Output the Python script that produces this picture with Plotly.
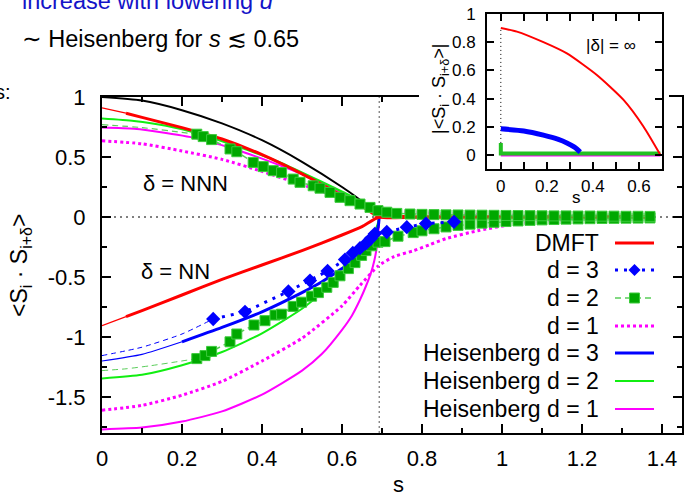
import plotly.graph_objects as go

W, H = 684, 497
S_C = 0.693  # critical coupling: dotted vertical marker

# ---------------- main panel ----------------
s_dmft = [0.0, 0.06, 0.1, 0.2, 0.3, 0.4, 0.5, 0.6, 0.65, 0.693, 0.8, 1.0, 1.2, 1.38]
nn_dmft = [-0.905, -0.83, -0.78, -0.65, -0.52, -0.40, -0.28, -0.15, -0.08, 0.0, 0.0, 0.0, 0.0, 0.0]
nnn_dmft = [0.91, 0.865, 0.83, 0.745, 0.65, 0.52, 0.36, 0.18, 0.09, 0.0, 0.0, 0.0, 0.0, 0.0]

s_black = [0.0, 0.1, 0.2, 0.3, 0.4, 0.5, 0.6, 0.65, 0.693]
nnn_black = [1.0, 0.97, 0.89, 0.78, 0.64, 0.46, 0.25, 0.13, 0.0]

s_heis3 = [0.0, 0.1, 0.2, 0.3, 0.4, 0.5, 0.55, 0.6, 0.63, 0.65, 0.665, 0.677, 0.686, 0.691, 0.693]
nn_heis3 = [-1.20, -1.145, -1.04, -0.92, -0.79, -0.63, -0.54, -0.43, -0.36, -0.30, -0.245,
            -0.19, -0.13, -0.07, 0.0]

s_heis2 = [0.0, 0.1, 0.2, 0.3, 0.4, 0.5, 0.55, 0.6, 0.625, 0.645, 0.66, 0.672, 0.682, 0.689, 0.693]
nn_heis2 = [-1.345, -1.315, -1.235, -1.125, -0.97, -0.765, -0.63, -0.47, -0.385, -0.30,
            -0.235, -0.175, -0.115, -0.06, 0.0]

s_heis1 = [0.0, 0.1, 0.2, 0.3, 0.4, 0.5, 0.55, 0.6, 0.625, 0.645, 0.66, 0.672, 0.681, 0.687, 0.691, 0.693]
nn_heis1 = [-1.77, -1.755, -1.705, -1.62, -1.48, -1.28, -1.14, -0.94, -0.82, -0.69, -0.575,
            -0.47, -0.36, -0.25, -0.13, 0.0]

s_heis_nnn = [0.0, 0.08, 0.16, 0.245, 0.345, 0.445, 0.545, 0.628, 0.678, 0.693]
nnn_heis2 = [0.82, 0.80, 0.76, 0.69, 0.58, 0.455, 0.30, 0.164, 0.06, 0.0]
nnn_heis1 = [0.745, 0.735, 0.70, 0.65, 0.55, 0.43, 0.29, 0.15, 0.05, 0.0]

s_d1_nn = [0.0, 0.1, 0.2, 0.3, 0.4, 0.5, 0.6, 0.645, 0.69, 0.73, 0.78, 0.82, 0.86,
           0.945, 1.03, 1.11, 1.2, 1.3, 1.38]
nn_d1 = [-1.61, -1.57, -1.485, -1.37, -1.20, -1.01, -0.74, -0.57, -0.41, -0.33, -0.28,
         -0.23, -0.18, -0.11, -0.06, -0.032, -0.018, -0.01, -0.007]
s_d1_nnn = [0.0, 0.1, 0.2, 0.3, 0.4, 0.5, 0.6, 0.69, 0.73, 0.8, 0.9, 1.0, 1.1, 1.2, 1.3, 1.38]
nnn_d1 = [0.635, 0.61, 0.55, 0.48, 0.38, 0.27, 0.16, 0.08, 0.05, 0.035, 0.025, 0.018,
          0.013, 0.01, 0.008, 0.006]

# low-s extrapolations of the finite-d data (thin dashed)
s_d3_ext = [0.0, 0.1, 0.2, 0.278]
nn_d3_ext = [-1.155, -1.085, -0.975, -0.85]
s_d2_ext = [0.0, 0.06, 0.12, 0.18, 0.237]
nn_d2_ext = [-1.28, -1.265, -1.24, -1.21, -1.18]
s_d2_ext_nnn = [0.0, 0.1, 0.2, 0.237]
nnn_d2_ext = [0.77, 0.745, 0.705, 0.69]

# d = 3 data points (NN)
s_d3 = [0.278, 0.3575, 0.466, 0.52, 0.564, 0.6075, 0.627, 0.645, 0.66, 0.672, 0.682,
        0.712, 0.762, 0.81, 0.88]
nn_d3 = [-0.85, -0.79, -0.62, -0.53, -0.45, -0.355, -0.30, -0.26, -0.22, -0.18, -0.14,
         -0.125, -0.085, -0.055, -0.04]

# d = 2 data points (NN)
s_d2_nn = [0.237, 0.2575, 0.274, 0.32, 0.337, 0.38, 0.4075, 0.4325, 0.449, 0.478, 0.499,
           0.524, 0.541, 0.562, 0.578, 0.595, 0.616, 0.6325, 0.649, 0.66, 0.674, 0.69,
           0.7075, 0.74, 0.778, 0.80, 0.83, 0.86, 0.89, 0.92, 0.95, 0.98, 1.01, 1.04,
           1.07, 1.10, 1.13, 1.16, 1.19, 1.22, 1.25, 1.28, 1.31, 1.34, 1.37]
nn_d2 = [-1.18, -1.155, -1.12, -1.04, -0.975, -0.90, -0.864, -0.817, -0.81, -0.745, -0.71,
         -0.66, -0.63, -0.586, -0.545, -0.49, -0.43, -0.38, -0.32, -0.28, -0.24, -0.21,
         -0.205, -0.16, -0.13, -0.115, -0.098, -0.083, -0.07, -0.06, -0.051, -0.044,
         -0.038, -0.033, -0.028, -0.024, -0.021, -0.018, -0.016, -0.014, -0.012, -0.011,
         -0.01, -0.009, -0.008]

# d = 2 data points (NNN)
s_d2_nnn = [0.237, 0.253, 0.274, 0.32, 0.337, 0.378, 0.403, 0.428, 0.449, 0.478, 0.495,
            0.528, 0.545, 0.57, 0.595, 0.62, 0.645, 0.67, 0.69, 0.712, 0.737, 0.77, 0.80,
            0.83, 0.86, 0.89, 0.92, 0.95, 0.98, 1.01, 1.04, 1.07, 1.10, 1.13, 1.16, 1.19,
            1.22, 1.25, 1.28, 1.31, 1.34, 1.37]
nnn_d2 = [0.69, 0.67, 0.645, 0.567, 0.544, 0.455, 0.42, 0.386, 0.37, 0.316, 0.289, 0.26,
          0.24, 0.205, 0.164, 0.136, 0.108, 0.08, 0.053, 0.04, 0.03, 0.025, 0.022, 0.02,
          0.018, 0.017, 0.016, 0.015, 0.014, 0.013, 0.012, 0.011, 0.01, 0.009, 0.009,
          0.008, 0.008, 0.007, 0.007, 0.006, 0.006, 0.005]

# ---------------- inset: |delta| = infinity ----------------
s_inf_dmft = [0.0, 0.07, 0.185, 0.287, 0.417, 0.533, 0.62, 0.693]
inf_dmft = [0.90, 0.875, 0.80, 0.72, 0.567, 0.39, 0.20, 0.0]
s_inf_d3 = [0.0, 0.1, 0.185, 0.25, 0.287, 0.32, 0.345]
inf_d3 = [0.185, 0.17, 0.14, 0.11, 0.085, 0.055, 0.02]
s_inf_d2 = [0.0, 0.0, 0.693]
inf_d2 = [0.085, 0.01, 0.01]
s_inf_d1 = [0.0, 0.693]
inf_d1 = [0.0, 0.0]

x_ticks = [0, 0.2, 0.4, 0.6, 0.8, 1.0, 1.2, 1.4]
x_ticktext = ["0", "0.2", "0.4", "0.6", "0.8", "1", "1.2", "1.4"]
y_ticks = [-1.5, -1.0, -0.5, 0.0, 0.5, 1.0]
y_ticktext = ["-1.5", "-1", "-0.5", "0", "0.5", "1"]
ix_ticks = [0, 0.2, 0.4, 0.6]
ix_ticktext = ["0", "0.2", "0.4", "0.6"]
iy_ticks = [0, 0.2, 0.4, 0.6, 0.8, 1.0]
iy_ticktext = ["0", "0.2", "0.4", "0.6", "0.8", "1"]

legend_labels = ["DMFT", "d = 3", "d = 2", "d = 1",
                 "Heisenberg d = 3", "Heisenberg d = 2", "Heisenberg d = 1"]

RED = "#FF0000"
BLUE = "#0000FF"
GREEN_DOT = "#00A800"
GREEN_DOT_EDGE = "#3CCB3C"
GREEN_DASH = "#5ACD5A"
GREEN_LINE = "#11EE11"
MAGENTA = "#FF00FF"
FONT = "Liberation Sans, Arial, DejaVu Sans, sans-serif"


def px(x):
    return x / W


def py(y):
    return 1 - y / H


fig = go.Figure()


def line(x, y, color, width, dash="solid", axes=("x", "y"), smooth=True):
    fig.add_trace(go.Scatter(x=x, y=y, mode="lines", xaxis=axes[0], yaxis=axes[1],
                             line=dict(color=color, width=width, dash=dash,
                                       shape="spline" if smooth else "linear",
                                       smoothing=0.6),
                             hoverinfo="skip", showlegend=False))


def split(xs, ys, cut):
    lo = [(a, b) for a, b in zip(xs, ys) if a <= cut]
    hi = [(a, b) for a, b in zip(xs, ys) if a >= cut]
    return ([p[0] for p in lo], [p[1] for p in lo]), ([p[0] for p in hi], [p[1] for p in hi])


# black reference curve
line(s_black, nnn_black, "#000000", 2)

# Heisenberg curves
line(s_heis_nnn, nnn_heis1, MAGENTA, 2)
line(s_heis1, nn_heis1, MAGENTA, 2)
line(s_heis_nnn, nnn_heis2, GREEN_LINE, 2)
line(s_heis2, nn_heis2, GREEN_LINE, 2)
(lo3, hi3) = split(s_heis3, nn_heis3, 0.2)
line(*lo3, BLUE, 1.2)
line(*hi3, BLUE, 3)

# d = 1
line(s_d1_nn, nn_d1, MAGENTA, 3, "3px,3px")
line(s_d1_nnn, nnn_d1, MAGENTA, 3, "3px,3px")

# extrapolations
line(s_d3_ext, nn_d3_ext, BLUE, 1, "5px,4px")
line(s_d2_ext, nn_d2_ext, GREEN_DASH, 1, "6px,4px")
line(s_d2_ext_nnn, nnn_d2_ext, GREEN_DASH, 1.2, "6px,4px")

# DMFT
(lo_d, hi_d) = split(s_dmft, nn_dmft, 0.06)
line(*lo_d, RED, 1.2)
line(*hi_d, RED, 3)
(lo_n, hi_n) = split(s_dmft, nnn_dmft, 0.06)
line(*lo_n, RED, 1.2)
line(*hi_n, RED, 3)

# d = 2 points
for xs, ys in ((s_d2_nn, nn_d2), (s_d2_nnn, nnn_d2)):
    fig.add_trace(go.Scatter(
        x=xs, y=ys, mode="lines+markers",
        line=dict(color=GREEN_DASH, width=1.5, dash="6px,4px"),
        marker=dict(symbol="square", size=10, color=GREEN_DOT,
                    line=dict(color=GREEN_DOT_EDGE, width=1)),
        hoverinfo="skip", showlegend=False))

# d = 3 points
fig.add_trace(go.Scatter(
    x=s_d3, y=nn_d3, mode="lines+markers",
    line=dict(color=BLUE, width=3, dash="3px,6px"),
    marker=dict(symbol="diamond", size=11, color=BLUE, line=dict(width=0)),
    hoverinfo="skip", showlegend=False))

# placeholder for the white panel under the inset
fig.add_trace(go.Scatter(x=[], y=[], xaxis="x2", yaxis="y2", showlegend=False))

# inset curves
line(s_inf_d1, inf_d1, MAGENTA, 3, axes=("x3", "y3"), smooth=False)
line(s_inf_d2, inf_d2, "#22C022", 4, axes=("x3", "y3"), smooth=False)
line(s_inf_d3, inf_d3, BLUE, 5, axes=("x3", "y3"))
line(s_inf_dmft, inf_dmft, RED, 2, axes=("x3", "y3"))

axis_common = dict(showgrid=False, zeroline=False, showline=True, linecolor="#000000",
                   linewidth=2, ticks="inside", tickcolor="#000000", tickwidth=1.5,
                   mirror="ticks", automargin=False,
                   tickfont=dict(family=FONT, size=22, color="#000000"))

fig.update_layout(
    width=W, height=H,
    margin=dict(l=0, r=0, t=0, b=0, pad=0),
    paper_bgcolor="#FFFFFF", plot_bgcolor="#FFFFFF",
    showlegend=False,
    xaxis=dict(axis_common, domain=[px(102), px(682)], range=[0, 1.45], anchor="y",
               tickvals=x_ticks, ticktext=x_ticktext, ticklen=9, ticklabelstandoff=5,
               minor=dict(ticks="inside", ticklen=5, dtick=0.1, tick0=0,
                          tickcolor="#000000", tickwidth=1.5)),
    yaxis=dict(axis_common, domain=[py(433), py(97)], range=[-1.8, 1.0], anchor="x",
               tickvals=y_ticks, ticktext=y_ticktext, ticklen=9, ticklabelstandoff=10,
               minor=dict(ticks="inside", ticklen=5, dtick=0.25, tick0=0,
                          tickcolor="#000000", tickwidth=1.5)),
    xaxis2=dict(domain=[px(419), px(669)], range=[0, 1], visible=False, anchor="y2"),
    yaxis2=dict(domain=[py(206), 1.0], range=[0, 1], visible=False, anchor="x2"),
    xaxis3=dict(axis_common, domain=[px(487), px(662)], range=[-0.06, 0.7], anchor="y3",
                tickvals=ix_ticks, ticktext=ix_ticktext, ticklen=7, ticklabelstandoff=1,
                tickfont=dict(family=FONT, size=17, color="#000000"),
                minor=dict(ticks="inside", ticklen=7, dtick=0.1, tick0=0,
                           tickcolor="#000000", tickwidth=1.5)),
    yaxis3=dict(axis_common, domain=[py(169), py(14)], range=[-0.1, 1.0], anchor="x3",
                tickvals=iy_ticks, ticktext=iy_ticktext, ticklen=7, ticklabelstandoff=6,
                tickfont=dict(family=FONT, size=17, color="#000000")),
)

# reference lines
shapes = [
    dict(type="line", xref="x domain", yref="y", x0=0, x1=1, y0=0, y1=0,
         line=dict(color="#000000", width=1, dash="2px,4px"), layer="below"),
    dict(type="line", xref="x", yref="y domain", x0=S_C, x1=S_C, y0=0, y1=1,
         line=dict(color="#555555", width=1, dash="2px,3px"), layer="below"),
    dict(type="line", xref="x3", yref="y3", x0=0, x1=0, y0=0, y1=inf_dmft[0],
         line=dict(color="#000000", width=1, dash="1px,3px"), layer="below"),
]

# key, drawn in gnuplot style (label right-aligned, sample on the right)
row_y = [243, 270, 298, 326, 353, 381, 409]
sample_x0, sample_x1, text_right = 615, 654, 601
styles = [
    dict(color=RED, width=3, dash="solid"),
    dict(color=BLUE, width=3, dash="3px,6px"),
    dict(color=GREEN_DASH, width=1.5, dash="6px,4px"),
    dict(color=MAGENTA, width=3, dash="3px,3px"),
    dict(color=BLUE, width=3, dash="solid"),
    dict(color=GREEN_LINE, width=2, dash="solid"),
    dict(color=MAGENTA, width=2, dash="solid"),
]
annotations = []
for yy, lab, st in zip(row_y, legend_labels, styles):
    shapes.append(dict(type="line", xref="paper", yref="paper",
                       x0=px(sample_x0), x1=px(sample_x1), y0=py(yy), y1=py(yy),
                       line=st, layer="above"))
    annotations.append(dict(x=px(text_right), y=py(yy), xref="paper", yref="paper",
                            text=lab, showarrow=False, xanchor="right", yanchor="middle",
                            font=dict(family=FONT, size=23, color="#000000")))
xm = (sample_x0 + sample_x1) / 2
# diamond for d = 3
yy = row_y[1]
shapes.append(dict(type="path", xref="paper", yref="paper",
                   path=f"M {px(xm)},{py(yy - 6)} L {px(xm + 6)},{py(yy)} "
                        f"L {px(xm)},{py(yy + 6)} L {px(xm - 6)},{py(yy)} Z",
                   fillcolor=BLUE, line=dict(width=0), layer="above"))
# square for d = 2
yy = row_y[2]
shapes.append(dict(type="rect", xref="paper", yref="paper",
                   x0=px(xm - 5), x1=px(xm + 5), y0=py(yy + 5), y1=py(yy - 5),
                   fillcolor=GREEN_DOT, line=dict(color=GREEN_DOT_EDGE, width=1),
                   layer="above"))


def note(x, y, text, size, color="#000000", xanchor="center", angle=0):
    annotations.append(dict(x=px(x), y=py(y), xref="paper", yref="paper", text=text,
                            showarrow=False, xanchor=xanchor, yanchor="middle",
                            textangle=angle,
                            font=dict(family=FONT, size=size, color=color)))


note(185, 183, "δ = NNN", 22)
note(175, 271, "δ = NN", 22)
note(398, 484, "s", 22)
note(20, 265, "&lt;S<sub>i</sub> · S<sub>i+δ</sub>&gt;", 23, angle=-90)
note(441, 89, "|&lt;S<sub>i</sub> · S<sub>i+δ</sub>&gt;|", 18, angle=-90)
note(576, 198, "s", 17)
note(611, 46, "|δ| = ∞", 17)
note(20, 39, "∼ Heisenberg for <i>s</i> ≲ 0.65", 23.5, xanchor="left")
note(20, 1, "increase with lowering <i>d</i>", 23.5, color="#1414C8", xanchor="left")
note(13, 92, "s:", 20, xanchor="right")

fig.update_layout(shapes=shapes, annotations=annotations)

# the page body keeps no margin, applied right away rather than after drawing
PAGE_STYLE = "}); document.body.style.margin = '0px'; (function(){"
fig.write_html("out.html", post_script=PAGE_STYLE)
